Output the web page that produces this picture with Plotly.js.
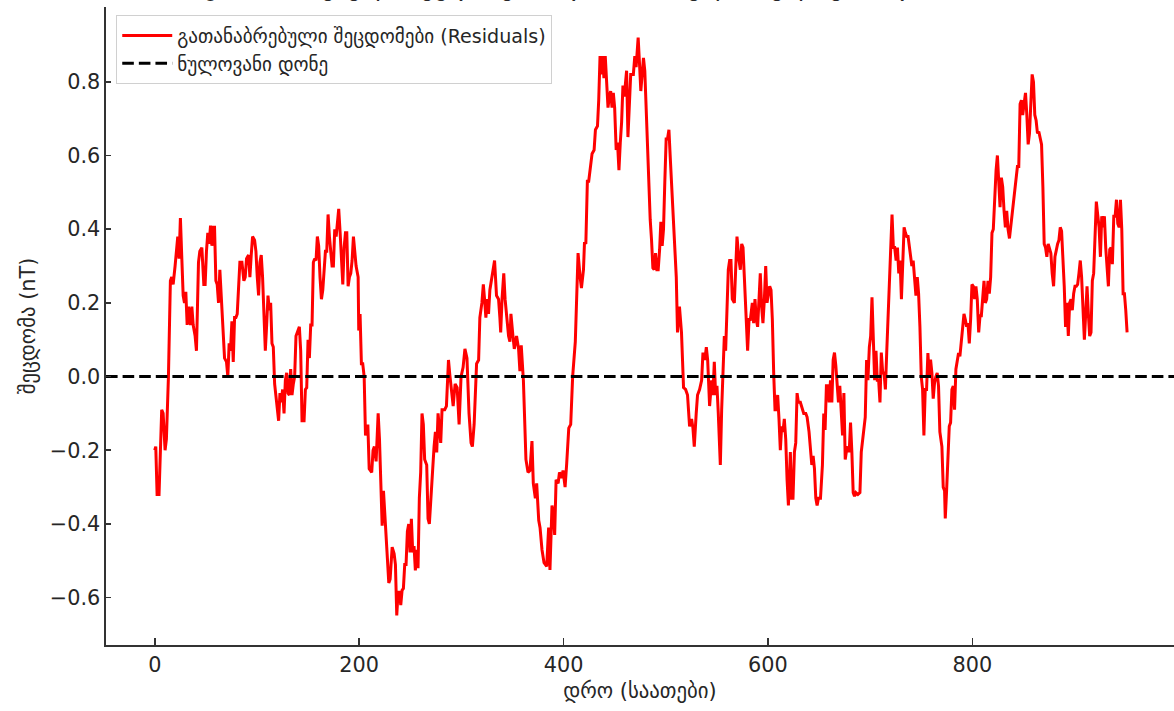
<!DOCTYPE html>
<html>
<head>
<meta charset="utf-8">
<script src="https://cdn.plot.ly/plotly-3.0.1.min.js"></script>
<style>html,body{margin:0;padding:0;background:#fff;}#chart{width:1174px;height:711px;}</style>
</head>
<body>
<div id="chart"></div>
<script>
// ---- data ----
const hours = [
0,1.0,2.3,4.2,6.8,8.2,10.1,11.4,13.4,15.3,16.6,18.0,19.9,22.5,23.8,25.1,26.5,27.8,29.1,30.4,31.7,33.0,35.0,36.3,37.6,39.5,40.8,42.8,44.1,46.1,48.0,49.3,50.6,51.9,53.2,54.6,55.9,57.2,58.5,59.8,61.1,62.4,63.7,65.0,66.3,68.3,70.2,71.5,72.8,74.1,75.5,76.8,78.1,79.4,80.7,83.3,85.3,87.2,88.5,89.8,91.8,93.1,94.4,95.7,97.7,99.0,100.3,101.6,102.9,104.2,105.5,106.8,108.2,109.5,110.8,112.1,113.4,114.7,116.0,117.3,119.3,121.2,122.5,123.8,125.1,126.5,127.8,129.1,130.4,131.7,133.0,134.3,135.6,136.9,138.2,139.5,141.5,142.8,144.1,146.1,147.4,148.7,150.0,151.3,152.6,153.9,155.2,156.5,157.8,159.1,160.4,161.7,163.1,164.4,165.7,167.0,168.3,169.6,170.9,172.2,173.5,174.8,176.1,177.5,178.8,180.0,181.4,182.7,184.0,185.3,186.6,187.9,189.2,190.5,191.8,193.1,194.4,195.7,197.0,199.0,199.6,200.9,202.2,203.5,204.9,
206.2,208.5,209.8,212.3,213.6,214.9,216.6,218.6,219.9,221.2,222.5,223.8,225.1,226.4,227.7,229.0,230.3,232.3,234.2,235.5,236.8,238.1,239.4,240.7,242.0,243.3,244.6,245.9,247.2,248.5,249.8,251.1,252.4,253.7,255.0,256.3,257.6,258.9,260.2,261.5,262.8,264.1,266.1,267.4,268.7,270.0,272.0,273.3,274.6,275.9,277.2,278.5,279.8,281.1,283.7,
285.4,287.4,288.7,290.7,292.0,293.9,295.9,297.8,299.7,301.7,303.5,305.5,307.5,309.5,310.8,312.5,314.9,316.9,318.1,320.1,321.5,322.7,324.0,325.3,326.6,327.9,329.9,331.2,332.5,334.4,336.4,337.7,338.5,339.8,341.5,342.8,344.1,346.2,347.5,348.5,350.5,351.8,354.0,356.0,357.3,358.6,360.7,362.0,363.2,365.2,367.1,369.1,370.4,372.4,373.7,375.7,377.0,378.9,380.9,383.5,385.4,386.7,388.7,390.0,391.3,392.7,394.7,396.0,398.0,399.5,401.5,403.1,405.1,407.0,408.9,411.5,412.9,414.2,416.2,417.5,419.5,420.5,421.8,423.3,424.6,426.0,427.9,429.9,431.2,433.2,434.4,435.7,437.0,438.3,439.5,440.8,442.1,443.5,444.8,446.1,447.4,448.7,450.0,451.5,452.8,454.2,455.5,456.8,458.1,459.4,460.7,461.7,463.0,464.3,465.7,468.3,469.7,471.0,473.0,474.3,475.6,476.9,478.2,479.5,480.9,482.8,484.8,486.1,487.4,488.7,490.0,491.3,492.6,494.0,495.2,496.5,497.8,499.1,500.4,501.7,503.1,504.4,506.3,507.6,509.0,510.3,
511.5,513.4,515.4,517.4,519.4,521.3,523.3,525.3,526.6,527.9,529.8,531.1,533.1,535.1,536.4,538.3,539.7,541.0,542.9,544.9,546.2,547.5,548.8,550.1,551.4,553.4,554.7,556.0,557.3,558.6,559.9,561.2,562.5,563.8,565.1,567.1,568.4,569.7,571.7,573.0,574.3,575.6,576.9,578.2,580.1,581.5,582.8,584.7,586.0,587.3,588.6,589.9,591.2,592.5,593.8,595.1,596.5,597.8,599.1,600.4,601.7,603.0,604.3,605.6,606.9,608.2,609.5,610.8,612.1,613.4,614.7,616.0,617.4,618.7,620.0,621.3,621.9,623.2,624.5,625.9,627.2,628.5,629.8,631.7,633.7,635.0,637.0,638.3,640.2,641.6,642.9,644.2,645.5,646.8,648.1,649.4,651.4,653.3,654.6,655.9,657.2,658.6,659.9,661.2,662.5,663.8,665.1,666.4,667.7,669.0,670.3,671.6,673.0,674.3,675.6,676.9,678.2,679.5,680.8,682.1,683.4,684.7,686.0,688.0,690.0,691.3,692.6,693.9,695.2,696.5,697.8,699.2,700.5,701.8,703.1,704.4,705.7,707.0,708.3,709.6,710.9,712.3,713.6,714.9,716.2,717.5,718.8,720.1,721.4,722.7,724.0,725.4,726.7,728.0,729.3,730.6,731.9,733.2,734.5,735.8,737.1,739.5,740.8,742.1,743.5,744.8,746.1,747.4,748.7,
750.0,751.3,752.6,753.9,755.2,756.5,757.8,759.1,760.4,761.7,763.0,764.3,765.6,766.9,768.2,770.2,771.5,772.8,773.5,774.8,776.1,777.4,778.7,780.0,781.3,782.6,783.9,785.2,786.5,787.8,789.1,790.5,791.8,793.1,794.4,795.7,797.0,798.3,799.6,800.9,802.2,803.5,804.8,806.2,807.5,808.8,810.1,811.4,812.7,814.0,815.3,816.6,817.9,819.2,820.5,821.8,823.2,824.5,825.8,827.1,828.4,829.7,831.0,832.3,833.6,834.9,836.3,837.6,838.9,840.2,841.5,842.8,844.1,845.4,846.7,848.0,849.3,850.6,852.0,853.3,854.6,855.9,857.2,858.5,859.8,861.1,862.4,863.7,865.0,866.4,867.7,869.0,870.3,871.6,872.9,874.2,875.5,876.8,878.1,879.5,880.8,882.1,883.4,884.7,886.0,887.3,888.6,889.9,891.2,892.5,893.9,895.2,896.5,897.8,899.1,900.4,901.7,903.0,904.3,905.6,906.9,908.3,909.6,910.9,912.2,913.5,914.8,916.1,917.4,918.7,920.0,921.3,922.6,924.0,925.3,926.6,927.9,929.2,930.5,931.8,933.1,934.4,935.7,937.0,938.4,939.7,941.0,942.3,943.6,944.9,946.2,947.5,948.8,950.1,951.4
];
const residuals = [
-0.20,-0.19,-0.32,-0.32,-0.09,-0.10,-0.20,-0.17,0.0,0.26,0.27,0.25,0.30,0.38,0.32,0.43,0.32,0.22,0.20,0.23,0.14,0.19,0.14,0.19,0.14,0.11,0.07,0.31,0.34,0.35,0.25,0.25,0.34,0.39,0.36,0.41,0.355,0.405,0.405,0.26,0.25,0.20,0.29,0.22,0.14,0.05,0.04,0.0,0.09,0.07,0.15,0.04,0.16,0.16,0.17,0.31,0.31,0.26,0.27,0.32,0.33,0.27,0.33,0.38,0.37,0.34,0.27,0.22,0.31,0.33,0.27,0.14,0.07,0.14,0.22,0.18,0.20,0.09,0.08,-0.02,-0.07,-0.12,-0.045,-0.07,-0.035,-0.10,-0.01,0.01,-0.045,-0.05,0.02,-0.05,-0.02,0.0,0.11,0.12,0.135,0.07,-0.12,-0.12,-0.035,-0.03,0.10,0.05,0.14,0.14,0.31,0.32,0.315,0.38,0.355,0.27,0.21,0.235,0.30,0.34,0.34,0.44,0.38,0.34,0.30,0.30,0.40,0.38,0.42,0.455,0.39,0.30,0.25,0.35,0.39,0.39,0.245,0.27,0.28,0.315,0.38,0.34,0.30,0.27,0.125,0.17,0.035,0.035,0.0,
-0.16,-0.13,-0.25,-0.26,-0.20,-0.19,-0.23,-0.10,-0.17,-0.31,-0.405,-0.31,-0.37,-0.41,-0.495,-0.56,-0.55,-0.463,-0.48,-0.51,-0.648,-0.585,-0.585,-0.62,-0.58,-0.575,-0.51,-0.51,-0.42,-0.40,-0.477,-0.386,-0.477,-0.46,-0.526,-0.47,-0.52,-0.33,-0.26,-0.10,-0.13,-0.225,-0.24,-0.386,-0.40,-0.33,-0.24,-0.19,-0.15,-0.206,-0.10,-0.15,-0.18,-0.09,-0.09,
-0.08,0.045,0.005,-0.04,-0.08,-0.02,-0.03,-0.13,0.0,0.025,0.075,0.05,-0.10,-0.18,-0.19,-0.13,0.035,0.045,0.16,0.20,0.25,0.21,0.16,0.21,0.17,0.235,0.27,0.29,0.315,0.22,0.21,0.16,0.12,0.21,0.28,0.21,0.17,0.11,0.095,0.17,0.11,0.075,0.11,0.075,0.015,0.085,-0.01,-0.12,-0.225,-0.26,-0.255,-0.175,-0.29,-0.33,-0.29,-0.39,-0.41,-0.47,-0.505,-0.515,-0.41,-0.525,-0.35,-0.37,-0.43,-0.28,-0.29,-0.26,-0.275,-0.255,-0.30,-0.235,-0.14,-0.13,0.0,0.095,0.23,0.335,0.27,0.24,0.29,0.365,0.36,0.53,0.53,0.57,0.605,0.615,0.67,0.68,0.75,0.87,0.82,0.87,0.81,0.87,0.81,0.73,0.76,0.775,0.73,0.77,0.73,0.615,0.635,0.56,0.635,0.69,0.79,0.76,0.80,0.83,0.65,0.76,0.82,0.82,0.87,0.84,0.92,0.85,0.775,0.82,0.865,0.83,0.71,0.57,0.425,0.37,0.295,0.29,0.335,0.29,0.29,0.345,0.42,0.355,0.40,0.53,0.645,0.645,0.67,0.595,0.50,0.42,0.335,0.27,
0.12,0.19,0.12,-0.03,-0.035,-0.05,-0.135,-0.115,-0.14,-0.19,-0.10,-0.05,-0.035,-0.01,0.065,0.045,0.08,0.045,-0.08,-0.01,-0.05,0.04,-0.05,-0.025,-0.10,-0.24,-0.09,0.035,0.11,0.07,0.19,0.29,0.315,0.315,0.21,0.20,0.29,0.38,0.315,0.29,0.36,0.35,0.27,0.19,0.07,0.155,0.155,0.20,0.145,0.21,0.155,0.135,0.225,0.28,0.19,0.145,0.21,0.30,0.20,0.225,0.245,0.235,0.155,0.01,-0.09,-0.09,-0.05,-0.115,-0.20,-0.135,-0.15,-0.115,-0.17,-0.28,-0.35,-0.26,-0.205,-0.33,-0.33,-0.205,-0.18,-0.045,-0.07,-0.07,-0.09,-0.10,-0.10,-0.11,-0.15,-0.20,-0.24,-0.215,-0.25,-0.33,-0.35,-0.33,-0.33,-0.24,-0.10,-0.145,-0.025,-0.025,-0.07,-0.01,-0.07,0.045,0.065,0.03,-0.025,-0.07,-0.025,-0.10,-0.16,-0.045,-0.225,-0.20,-0.19,-0.205,-0.125,-0.205,-0.315,-0.325,-0.315,-0.32,-0.315,-0.205,-0.17,-0.15,-0.11,0.045,-0.01,0.08,0.11,0.215,0.11,-0.01,0.07,-0.01,-0.01,-0.07,0.065,0.01,0.01,-0.035,0.065,0.155,0.27,0.35,0.44,0.35,0.35,0.315,0.35,0.28,0.315,0.21,0.335,0.405,0.39,0.38,0.38,0.335,0.30,0.315,0.27,0.22,0.27,0.225,0.135,
0.0,-0.035,-0.16,-0.035,-0.035,0.064,0.0,0.046,0.01,-0.06,-0.017,0.0,0.01,-0.026,-0.15,-0.19,-0.30,-0.31,-0.385,-0.31,-0.215,-0.135,-0.125,-0.035,-0.026,-0.09,0.02,0.046,0.064,0.055,0.09,0.12,0.17,0.155,0.135,0.145,0.09,0.155,0.25,0.245,0.21,0.245,0.21,0.12,0.165,0.165,0.21,0.26,0.20,0.21,0.26,0.225,0.27,0.39,0.40,0.48,0.56,0.60,0.515,0.46,0.54,0.515,0.45,0.405,0.45,0.40,0.375,0.405,0.44,0.48,0.50,0.525,0.57,0.57,0.74,0.75,0.71,0.74,0.77,0.71,0.63,0.66,0.77,0.82,0.80,0.71,0.695,0.66,0.665,0.64,0.63,0.515,0.36,0.35,0.325,0.36,0.35,0.335,0.28,0.245,0.325,0.345,0.36,0.37,0.405,0.395,0.325,0.245,0.135,0.20,0.11,0.20,0.21,0.18,0.225,0.245,0.245,0.25,0.28,0.315,0.27,0.17,0.10,0.17,0.245,0.17,0.11,0.12,0.26,0.28,0.39,0.475,0.44,0.405,0.325,0.435,0.405,0.435,0.35,0.28,0.245,0.345,0.35,0.305,0.435,0.435,0.48,0.415,0.405,0.48,0.40,0.225,0.225,0.18,0.12
];
const zeroLevel = 0;
const xTickVals = [0, 200, 400, 600, 800];
const yTickVals = [-0.6, -0.4, -0.2, 0.0, 0.2, 0.4, 0.6, 0.8];
const xRange = [-47.7, 997.3];
const yRange = [-0.7285, 1.003];

const seriesName = 'გათანაბრებული შეცდომები (Residuals)';
const zeroName = 'ნულოვანი დონე';
const titleText = 'გათანაბრებული შეცდომების დროითი სვლა (ნულოვანი დონის მიმართ)';
const xTitle = 'დრო (საათები)';
const yTitle = 'შეცდომა (nT)';

const FONT = 'DejaVu Sans, sans-serif';
const INK = '#262626';

const traces = [
  {
    type: 'scatter', mode: 'lines', name: seriesName,
    x: hours, y: residuals,
    line: {color: '#ff0000', width: 3}
  },
  {
    type: 'scatter', mode: 'lines', name: zeroName,
    x: xRange, y: [zeroLevel, zeroLevel],
    line: {color: '#000000', width: 3, dash: '11.6px,5px'}
  }
];

const layout = {
  width: 1174, height: 711,
  margin: {l: 106, r: 0, t: 7, b: 66, pad: 0},
  paper_bgcolor: '#ffffff', plot_bgcolor: '#ffffff',
  font: {family: FONT, size: 20.8, color: INK},
  showlegend: true,
  legend: {
    x: 0.0094, y: 0.987, xanchor: 'left', yanchor: 'top',
    bgcolor: 'rgba(255,255,255,0.85)', bordercolor: '#d0d0d0', borderwidth: 1.2,
    font: {family: FONT, size: 19.1, color: INK},
    itemwidth: 50, tracegroupgap: 0
  },
  xaxis: {
    range: xRange, autorange: false,
    tickmode: 'array', tickvals: xTickVals, ticktext: xTickVals.map(String),
    ticks: 'inside', ticklen: 7, tickwidth: 1.6, tickcolor: '#333',
    showline: true, linecolor: '#333', linewidth: 1.6, mirror: false,
    showgrid: false, zeroline: false,
    tickfont: {family: FONT, size: 20.8, color: INK},
    title: {text: xTitle, font: {family: FONT, size: 20.8, color: INK}, standoff: 8},
    automargin: false
  },
  yaxis: {
    range: yRange, autorange: false,
    tickmode: 'array', tickvals: yTickVals,
    ticktext: yTickVals.map(v => (v < 0 ? '\u2212' : '') + Math.abs(v).toFixed(1)),
    ticks: 'inside', ticklen: 5, tickwidth: 1.6, tickcolor: '#333',
    showline: true, linecolor: '#333', linewidth: 1.6, mirror: false,
    showgrid: false, zeroline: false,
    tickfont: {family: FONT, size: 20.8, color: INK},
    title: {text: yTitle, font: {family: FONT, size: 20.8, color: INK}, standoff: 8},
    automargin: false
  },
  annotations: [{
    text: titleText, xref: 'paper', yref: 'paper', x: 0.5, y: 1,
    xanchor: 'center', yanchor: 'bottom', yshift: 4, showarrow: false,
    font: {family: FONT, size: 25, color: INK}
  }]
};

Plotly.newPlot('chart', traces, layout, {displayModeBar: false, staticPlot: true});
</script>
</body>
</html>
